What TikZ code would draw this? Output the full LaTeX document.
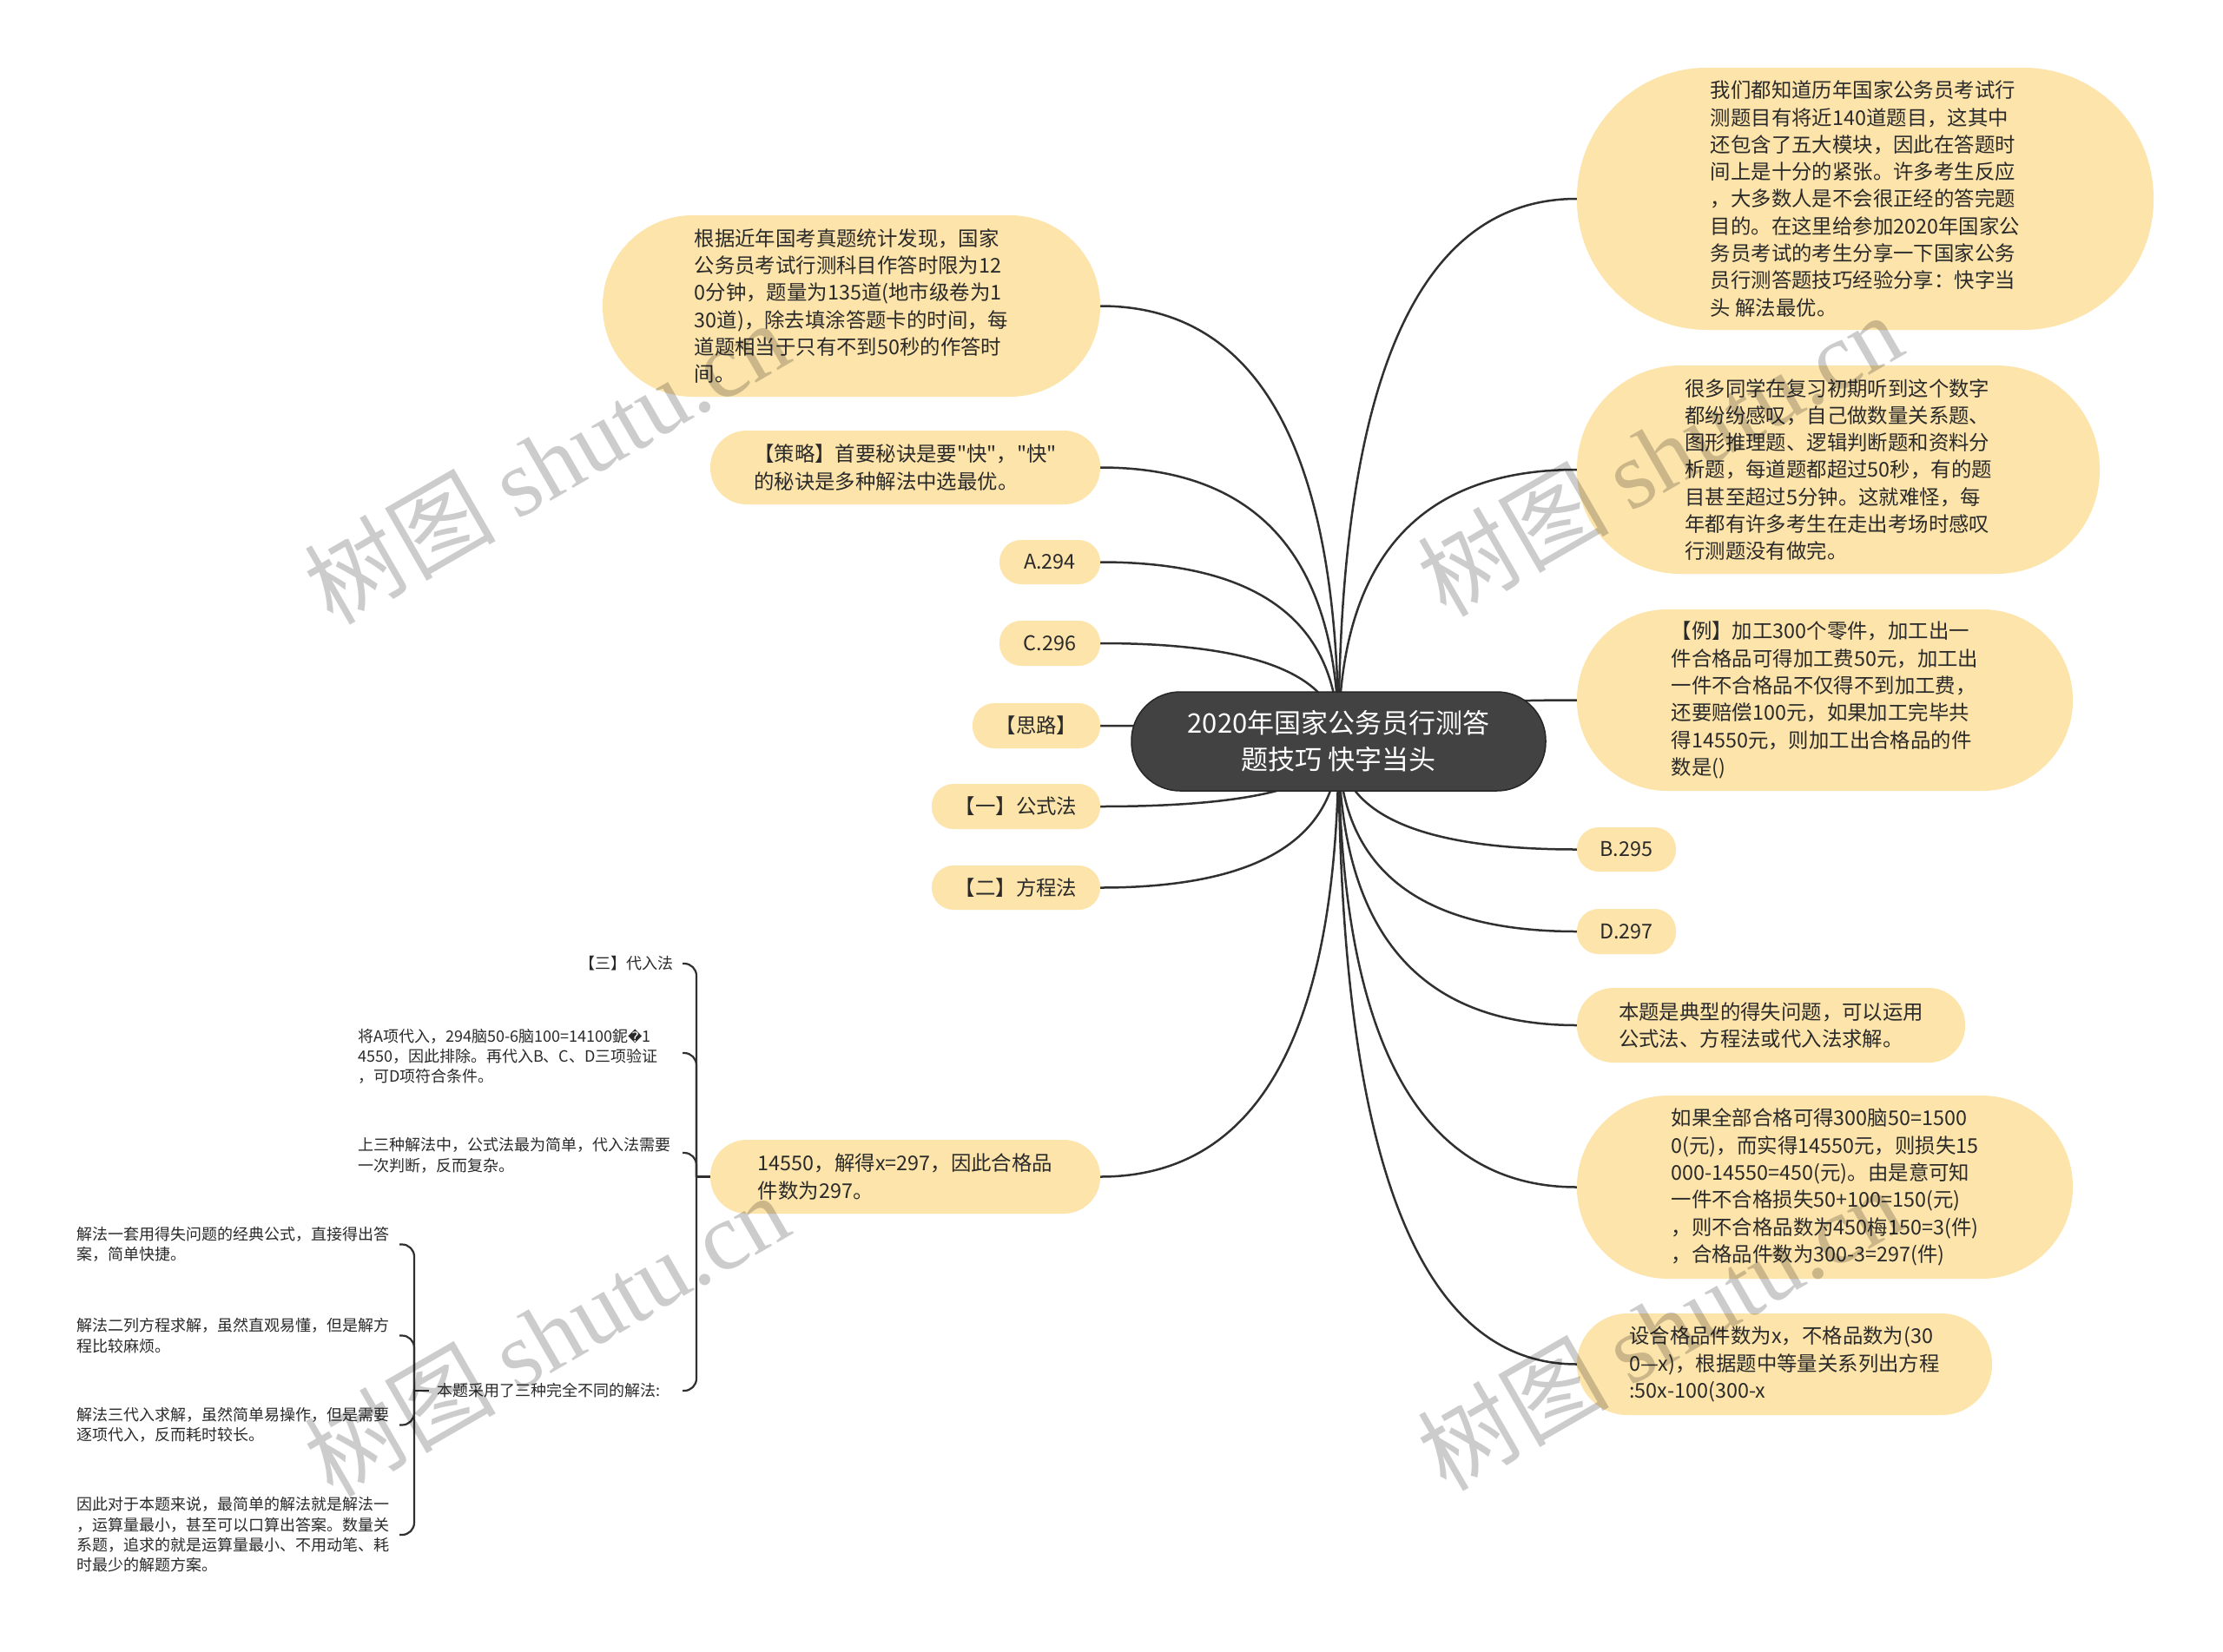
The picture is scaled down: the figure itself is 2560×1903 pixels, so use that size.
\documentclass[tikz,border=0pt]{standalone}
\usepackage{fontspec}
\setmainfont{Noto Sans CJK SC}[Ligatures=TeXOff]
\newfontfamily\wmserif{Liberation Serif}
\newfontfamily\dejavu{DejaVu Sans}
\usetikzlibrary{calc}
\pgfdeclarelayer{bg}
\pgfsetlayers{bg,main}
\definecolor{boxfill}{HTML}{FDE4AA}
\definecolor{rootfill}{HTML}{424242}
\definecolor{linec}{HTML}{303030}
\definecolor{txt}{HTML}{2A2A2A}
\tikzset{
  pill/.style={fill=boxfill, draw=none, text=txt, align=left, inner sep=0pt,
    font=\fontsize{23.4}{31.3}\selectfont},
  rootbox/.style={fill=rootfill, draw=black!85, line width=1.5pt, text=white, align=center,
    inner sep=0pt, font=\fontsize{31}{42}\selectfont},
  small/.style={text=txt, align=left, inner sep=0pt, font=\fontsize{18}{23.3}\selectfont},
  conn/.style={draw=linec, line width=2.5pt},
  bconn/.style={draw=linec, line width=2.2pt, rounded corners=14pt},
  wm/.style={text=black, text opacity=0.2, font=\fontsize{110}{120}\selectfont, inner sep=0pt}
}
\begin{document}
\begin{tikzpicture}[x=1pt,y=-1pt]
\useasboundingbox (0,0) rectangle (2560,1903);
\begin{pgfonlayer}{bg}
\fill[white] (0,0) rectangle (2560,1903);
\end{pgfonlayer}

% root
\node[rootbox, minimum width=477pt, minimum height=114pt, rounded corners=56pt] (root) at (1541.5,854)
  {2020年国家公务员行测答\\题技巧 快字当头};

% right side
\node[pill, minimum width=664pt, minimum height=302pt, rounded corners=150pt] (r1) at (2148,229)
 {我们都知道历年国家公务员考试行\\测题目有将近140道题目，这其中\\还包含了五大模块，因此在答题时\\间上是十分的紧张。许多考生反应\\，大多数人是不会很正经的答完题\\目的。在这里给参加2020年国家公\\务员考试的考生分享一下国家公务\\员行测答题技巧经验分享：快字当\\头 解法最优。};
\node[pill, minimum width=602pt, minimum height=240pt, rounded corners=119pt] (r2) at (2117,541)
 {很多同学在复习初期听到这个数字\\都纷纷感叹，自己做数量关系题、\\图形推理题、逻辑判断题和资料分\\析题，每道题都超过50秒，有的题\\目甚至超过5分钟。这就难怪，每\\年都有许多考生在走出考场时感叹\\行测题没有做完。};
\node[pill, minimum width=571pt, minimum height=209pt, rounded corners=104pt] (r3) at (2101.5,806.5)
 {【例】加工300个零件，加工出一\\件合格品可得加工费50元，加工出\\一件不合格品不仅得不到加工费，\\还要赔偿100元，如果加工完毕共\\得14550元，则加工出合格品的件\\数是()};
\node[pill, minimum width=114pt, minimum height=51pt, rounded corners=25pt] (r4) at (1873,978.5) {B.295};
\node[pill, minimum width=114pt, minimum height=52pt, rounded corners=25pt] (r5) at (1873,1073) {D.297};
\node[pill, minimum width=447pt, minimum height=86pt, rounded corners=42pt] (r6) at (2039.5,1181)
 {本题是典型的得失问题，可以运用\\公式法、方程法或代入法求解。};
\node[pill, minimum width=571pt, minimum height=211pt, rounded corners=105pt] (r7) at (2101.5,1367.5)
 {如果全部合格可得300脑50=1500\\0(元)，而实得14550元，则损失15\\000-14550=450(元)。由是意可知\\一件不合格损失50+100=150(元)\\，则不合格品数为450梅150=3(件)\\，合格品件数为300-3=297(件)};
\node[pill, minimum width=478pt, minimum height=117pt, rounded corners=58pt] (r8) at (2055,1571.5)
 {设合格品件数为x，不格品数为(30\\0—x)，根据题中等量关系列出方程\\:50x-100(300-x};

% left side
\node[pill, minimum width=573pt, minimum height=209pt, rounded corners=104pt] (l1) at (980.5,352.5)
 {根据近年国考真题统计发现，国家\\公务员考试行测科目作答时限为12\\0分钟，题量为135道(地市级卷为1\\30道)，除去填涂答题卡的时间，每\\道题相当于只有不到50秒的作答时\\间。};
\node[pill, minimum width=449pt, minimum height=85pt, rounded corners=42pt] (l2) at (1042.5,538.5)
 {【策略】首要秘诀是要"快"，"快"\\的秘诀是多种解法中选最优。};
\node[pill, minimum width=116pt, minimum height=51pt, rounded corners=25pt] (l3) at (1209,647.5) {A.294};
\node[pill, minimum width=116pt, minimum height=52pt, rounded corners=25pt] (l4) at (1209,741) {C.296};
\node[pill, minimum width=147pt, minimum height=52pt, rounded corners=25pt] (l5) at (1193.5,836) {【思路】};
\node[pill, minimum width=194pt, minimum height=52pt, rounded corners=25pt] (l6) at (1170,929) {【一】公式法};
\node[pill, minimum width=194pt, minimum height=51pt, rounded corners=25pt] (l7) at (1170,1022.5) {【二】方程法};
\node[pill, minimum width=449pt, minimum height=85pt, rounded corners=42pt] (l8) at (1042.5,1355.5)
 {14550，解得x=297，因此合格品\\件数为297。};

% children of l8
\node[small, anchor=east] (a) at (776,1110) {【三】代入法};
\node[small, anchor=west] (b) at (412,1217) {将A项代入，294脑50-6脑100=14100鈮{\dejavu\fontsize{16}{20}\selectfont �}1\\4550，因此排除。再代入B、C、D三项验证\\，可D项符合条件。};
\node[small, anchor=west] (c) at (412,1331) {上三种解法中，公式法最为简单，代入法需要\\一次判断，反而复杂。};
\node[small, anchor=west, inner xsep=9pt] (d) at (494,1602) {本题采用了三种完全不同的解法:};

% children of d
\node[small, anchor=west] (d1) at (88,1433.5) {解法一套用得失问题的经典公式，直接得出答\\案，简单快捷。};
\node[small, anchor=west] (d2) at (88,1538.5) {解法二列方程求解，虽然直观易懂，但是解方\\程比较麻烦。};
\node[small, anchor=west] (d3) at (88,1641.5) {解法三代入求解，虽然简单易操作，但是需要\\逐项代入，反而耗时较长。};
\node[small, anchor=west] (d4) at (88,1768) {因此对于本题来说，最简单的解法就是解法一\\，运算量最小，甚至可以口算出答案。数量关\\系题，追求的就是运算量最小、不用动笔、耗\\时最少的解题方案。};

% bracket coordinates
\coordinate (j8) at (802,1355.5);
\coordinate (ha) at (786,1110);
\coordinate (hb) at (786,1213);
\coordinate (hc) at (786,1328);
\coordinate (hd) at (786,1602);
\coordinate (jd) at (477,1602);
\coordinate (h1) at (460,1433.5);
\coordinate (h2) at (460,1538.5);
\coordinate (h3) at (460,1641.5);
\coordinate (h4) at (460,1768);

\begin{pgfonlayer}{bg}
  \foreach \n in {r1,r2,r3,r4,r5,r6,r7,r8}
    \draw[conn] (root.center)
      .. controls ($(root.center)!0.6667!(root.center |- \n.west)$)
             and ($(\n.west)!0.6667!(root.center |- \n.west)$) .. (\n.west);
  \foreach \n in {l1,l2,l3,l4,l5,l6,l7,l8}
    \draw[conn] (root.center)
      .. controls ($(root.center)!0.6667!(root.center |- \n.east)$)
             and ($(\n.east)!0.6667!(root.center |- \n.east)$) .. (\n.east);
\end{pgfonlayer}

\draw[bconn] (l8.west) -- (j8);
\foreach \h in {ha,hb,hc,hd}
  \draw[bconn] (j8) |- (\h);
\draw[bconn] (d.west) -- (jd);
\foreach \h in {h1,h2,h3,h4}
  \draw[bconn] (jd) |- (\h);

% watermarks
\node[wm, rotate=30] (wm1) at (629,532) {树图 {\wmserif shutu.cn}};
\node[wm, rotate=30] (wm2) at (1911,523) {树图 {\wmserif shutu.cn}};
\node[wm, rotate=30] (wm3) at (629,1537) {树图 {\wmserif shutu.cn}};
\node[wm, rotate=30] (wm4) at (1911,1530) {树图 {\wmserif shutu.cn}};
\end{tikzpicture}
\end{document}
